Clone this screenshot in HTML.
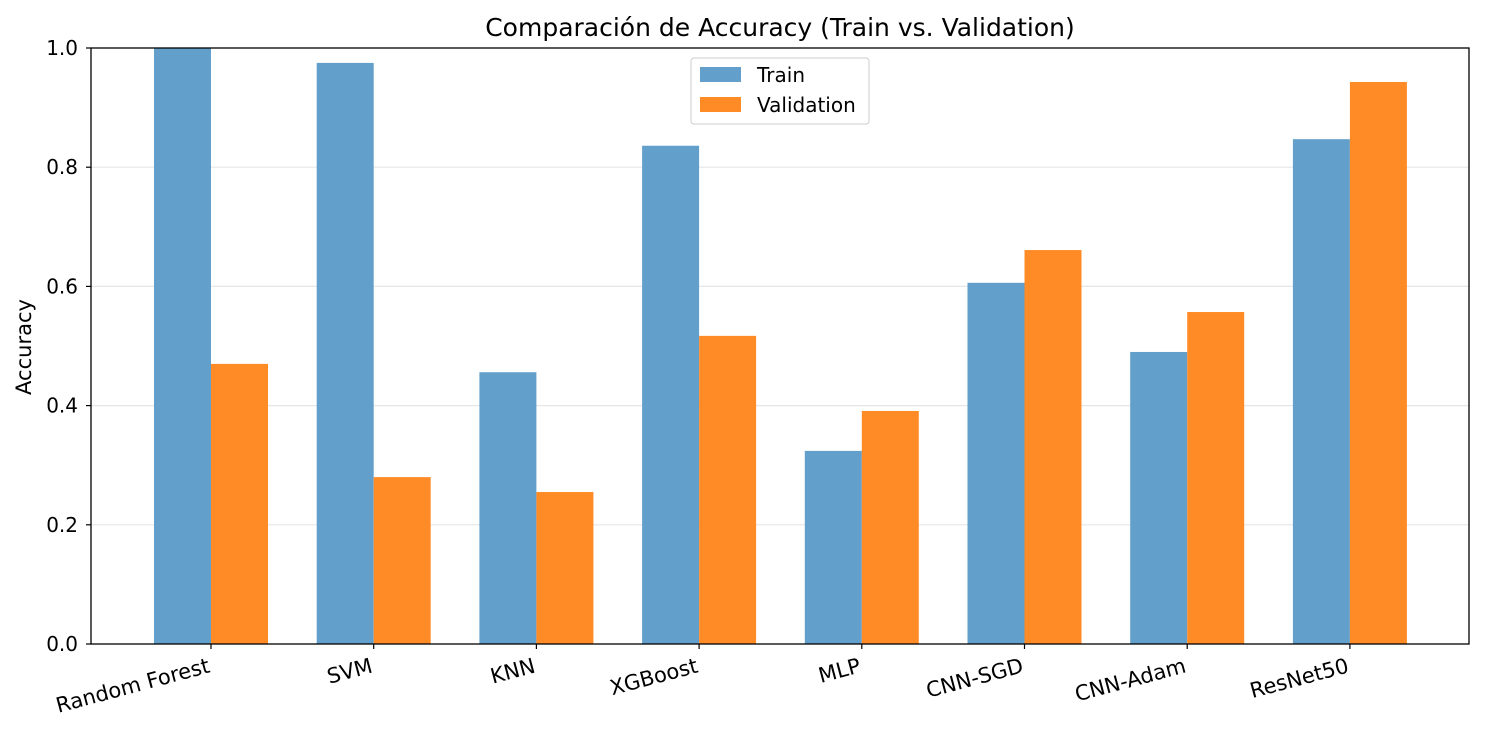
<!DOCTYPE html>
<html><head><meta charset="utf-8"><style>
body{margin:0;background:#fff;}
svg{display:block;font-family:"DejaVu Sans","Liberation Sans",sans-serif;}
</style></head><body>
<svg id="chart" width="1485" height="734">
<rect width="1485" height="734" fill="#fff"/>
<text x="780" y="36" font-size="25" text-anchor="middle">Comparación de Accuracy (Train vs. Validation)</text>
<text transform="translate(31,347) rotate(-90)" font-size="21" text-anchor="middle">Accuracy</text>
<g id="grid"></g><g id="bars"></g><g id="ticks"></g>
<rect x="91" y="48" width="1378" height="596" fill="none" stroke="#000" stroke-width="1.3"/>
<g>
<rect x="691" y="58" width="178" height="66" rx="3" fill="#fff" fill-opacity="0.8" stroke="#ccc"/>
<rect x="700" y="67" width="41" height="15" fill="#62a0cb"/>
<text x="757" y="82" font-size="20">Train</text>
<rect x="700" y="97" width="41" height="15" fill="#ff8b27"/>
<text x="757" y="112" font-size="20">Validation</text>
</g>
</svg>
<script>
const categories=["Random Forest","SVM","KNN","XGBoost","MLP","CNN-SGD","CNN-Adam","ResNet50"];
const trainValues=[1.0,0.975,0.456,0.836,0.324,0.606,0.490,0.847];
const valValues=[0.470,0.280,0.255,0.517,0.391,0.661,0.557,0.943];
const yTicks=[0.0,0.2,0.4,0.6,0.8,1.0];
const yTickLabels=["0.0","0.2","0.4","0.6","0.8","1.0"];
const NS="http://www.w3.org/2000/svg";
const L=91,R=1469,T=48,B=644;
const y=v=>B-v*(B-T);
const step=162.7, x0=211;
const x=i=>x0+i*step;
const bw=57;
function mk(tag,attrs,parent){const e=document.createElementNS(NS,tag);for(const k in attrs)e.setAttribute(k,attrs[k]);parent.appendChild(e);return e;}
const grid=document.getElementById('grid'),bars=document.getElementById('bars'),ticks=document.getElementById('ticks');
yTicks.forEach((v,i)=>{
 if(v>0&&v<1){const g=mk('line',{x1:L,x2:R,y1:y(v),y2:y(v),stroke:'#e6e6e6','stroke-width':1.2},grid);
 
 }
 mk('line',{x1:L-5,x2:L,y1:y(v),y2:y(v),stroke:'#000','stroke-width':1.2},ticks);
 const t=mk('text',{x:L-13,y:y(v)+7,'font-size':20,'text-anchor':'end'},ticks);t.textContent=yTickLabels[i];
 
 
});
categories.forEach((c,i)=>{
 const cx=x(i);
 const b1=mk('rect',{x:cx-bw,y:y(trainValues[i]),width:bw,height:B-y(trainValues[i]),fill:'#62a0cb'},bars);
 
 
 const b2=mk('rect',{x:cx,y:y(valValues[i]),width:bw,height:B-y(valValues[i]),fill:'#ff8b27'},bars);
 
 
 mk('line',{x1:cx,x2:cx,y1:B,y2:B+5,stroke:'#000','stroke-width':1.2},ticks);
 const t=mk('text',{transform:`translate(${cx},${B+28}) rotate(-15)`,'font-size':21,'text-anchor':'end'},ticks);
 t.textContent=c;
 
 
});
</script>
</body></html>
